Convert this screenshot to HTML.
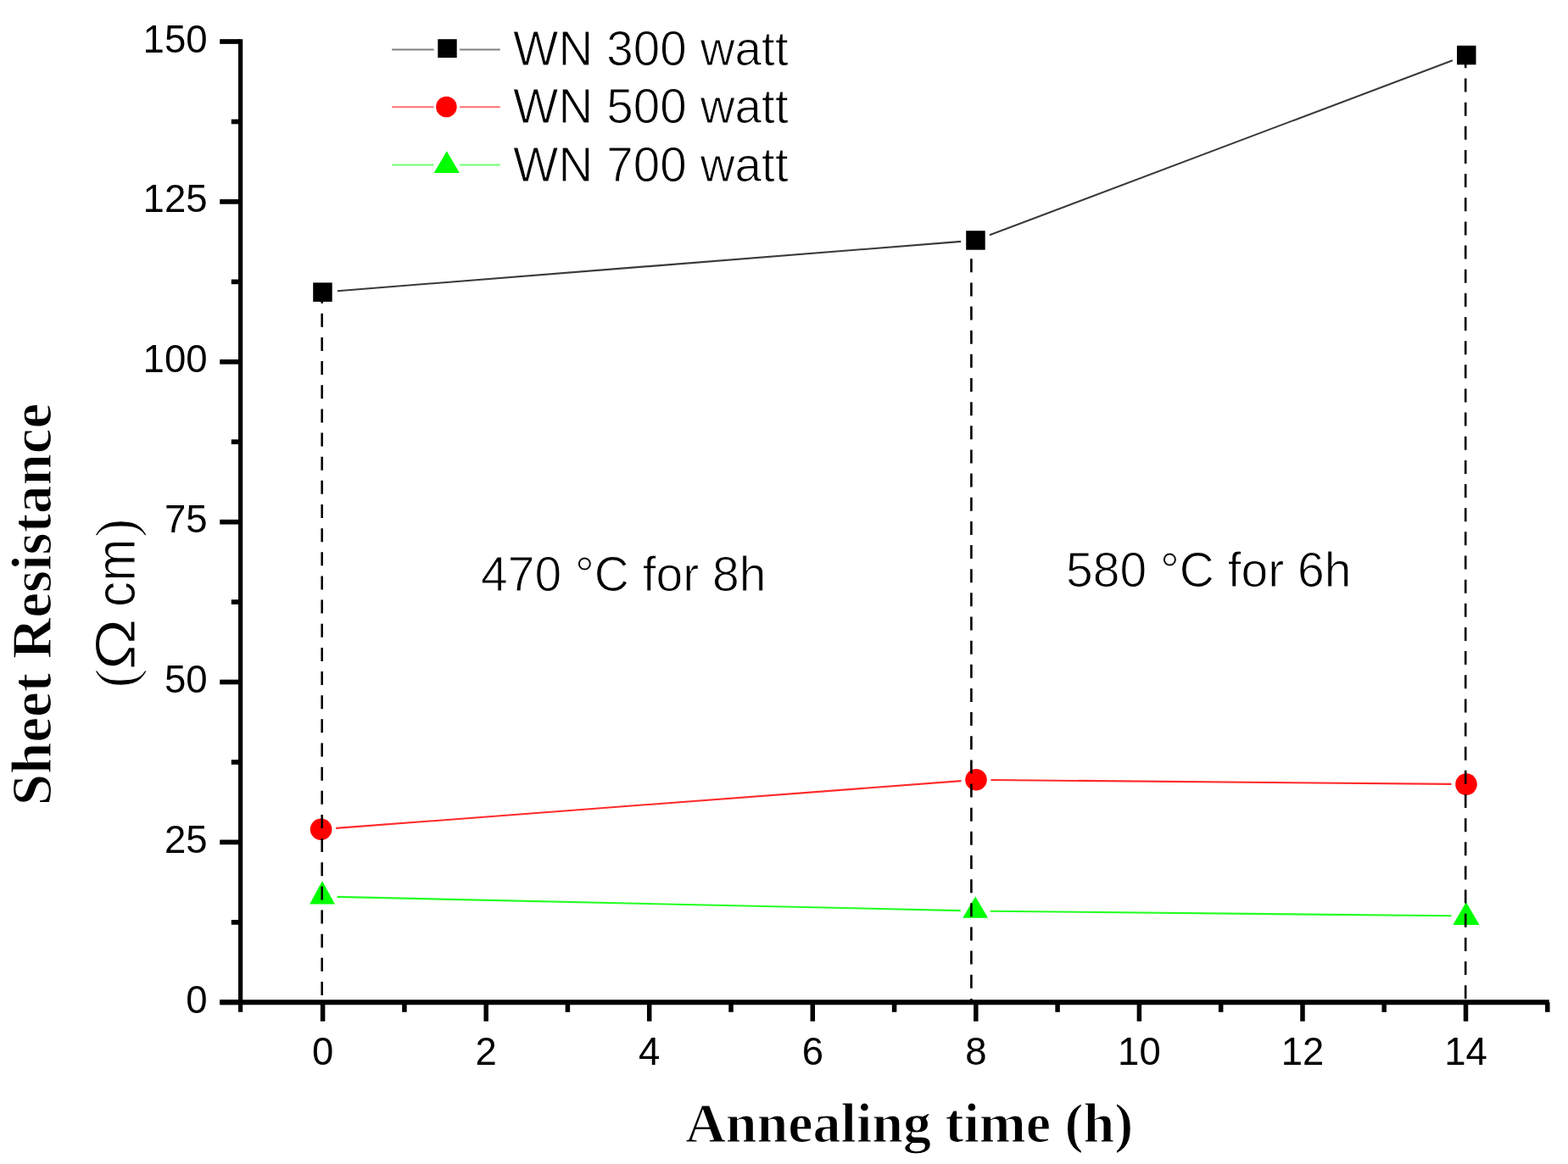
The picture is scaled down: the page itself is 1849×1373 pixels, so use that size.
<!DOCTYPE html>
<html><head><meta charset="utf-8"><title>Sheet Resistance vs Annealing time</title>
<style>html,body{margin:0;padding:0;background:#fff;}svg{display:block;}text{stroke:#fff;paint-order:fill stroke;}.ts{stroke-width:1.0px;}.tb{stroke-width:1.2px;}.tk text{stroke:none;}</style></head>
<body>
<svg width="1849" height="1373" viewBox="0 0 1849 1373">
<rect width="1849" height="1373" fill="#fff"/>
<line x1="397.9" y1="343.2" x2="1133.1" y2="284.9" stroke="#3a3a3a" stroke-width="2.1"/><line x1="1166.9" y1="277.3" x2="1712.9" y2="71.2" stroke="#3a3a3a" stroke-width="2.1"/>
<line x1="396.1" y1="976.9" x2="1133.5" y2="921.1" stroke="#ff2a2a" stroke-width="2.1"/><line x1="1168.5" y1="920.0" x2="1711.5" y2="924.9" stroke="#ff2a2a" stroke-width="2.1"/>
<line x1="397.5" y1="1057.9" x2="1132.7" y2="1074.1" stroke="#22ff22" stroke-width="2.1"/><line x1="1167.7" y1="1074.7" x2="1711.5" y2="1080.3" stroke="#22ff22" stroke-width="2.1"/>
<rect x="369.2" y="333.4" width="22.5" height="22.5" fill="#000"/>
<rect x="1139.2" y="272.2" width="22.5" height="22.5" fill="#000"/>
<rect x="1718.0" y="53.8" width="22.5" height="22.5" fill="#000"/>
<circle cx="378.6" cy="978.2" r="12.8" fill="#f00"/>
<circle cx="1151.0" cy="919.8" r="12.8" fill="#f00"/>
<circle cx="1729.0" cy="925.1" r="12.8" fill="#f00"/>
<polygon points="380.0,1039.1 394.9,1066.5 365.2,1066.5" fill="#0f0"/>
<polygon points="1150.2,1057.5 1165.1,1082.7 1135.2,1082.7" fill="#0f0"/>
<polygon points="1728.9,1064 1744.6,1090.9 1713.3,1090.9" fill="#0f0"/>
<line x1="379.7" y1="341.65" x2="379.7" y2="1180" stroke="#000" stroke-width="2.6" stroke-dasharray="16 12.15"/>
<line x1="1145.4" y1="277.1" x2="1145.4" y2="1180" stroke="#000" stroke-width="2.6" stroke-dasharray="16 12.15"/>
<line x1="1728.2" y1="64.35" x2="1728.2" y2="1180" stroke="#000" stroke-width="2.6" stroke-dasharray="16 12.15"/>
<line x1="283.6" y1="46.2" x2="283.6" y2="1193.8" stroke="#000" stroke-width="5.2"/>
<line x1="259.2" y1="1182.3" x2="1826.7" y2="1182.3" stroke="#000" stroke-width="6.0"/>
<line x1="259.2" y1="1182.3" x2="283.6" y2="1182.3" stroke="#000" stroke-width="5.7"/>
<line x1="259.2" y1="993.4" x2="283.6" y2="993.4" stroke="#000" stroke-width="5.7"/>
<line x1="259.2" y1="804.5" x2="283.6" y2="804.5" stroke="#000" stroke-width="5.7"/>
<line x1="259.2" y1="615.7" x2="283.6" y2="615.7" stroke="#000" stroke-width="5.7"/>
<line x1="259.2" y1="426.8" x2="283.6" y2="426.8" stroke="#000" stroke-width="5.7"/>
<line x1="259.2" y1="237.9" x2="283.6" y2="237.9" stroke="#000" stroke-width="5.7"/>
<line x1="259.2" y1="49.0" x2="283.6" y2="49.0" stroke="#000" stroke-width="5.7"/>
<line x1="272.8" y1="1087.9" x2="283.6" y2="1087.9" stroke="#000" stroke-width="5.7"/>
<line x1="272.8" y1="899.0" x2="283.6" y2="899.0" stroke="#000" stroke-width="5.7"/>
<line x1="272.8" y1="710.1" x2="283.6" y2="710.1" stroke="#000" stroke-width="5.7"/>
<line x1="272.8" y1="521.2" x2="283.6" y2="521.2" stroke="#000" stroke-width="5.7"/>
<line x1="272.8" y1="332.4" x2="283.6" y2="332.4" stroke="#000" stroke-width="5.7"/>
<line x1="272.8" y1="143.5" x2="283.6" y2="143.5" stroke="#000" stroke-width="5.7"/>
<line x1="380.6" y1="1182.3" x2="380.6" y2="1204.7" stroke="#000" stroke-width="5.5"/>
<line x1="573.2" y1="1182.3" x2="573.2" y2="1204.7" stroke="#000" stroke-width="5.5"/>
<line x1="765.7" y1="1182.3" x2="765.7" y2="1204.7" stroke="#000" stroke-width="5.5"/>
<line x1="958.3" y1="1182.3" x2="958.3" y2="1204.7" stroke="#000" stroke-width="5.5"/>
<line x1="1150.8" y1="1182.3" x2="1150.8" y2="1204.7" stroke="#000" stroke-width="5.5"/>
<line x1="1343.4" y1="1182.3" x2="1343.4" y2="1204.7" stroke="#000" stroke-width="5.5"/>
<line x1="1536.0" y1="1182.3" x2="1536.0" y2="1204.7" stroke="#000" stroke-width="5.5"/>
<line x1="1728.5" y1="1182.3" x2="1728.5" y2="1204.7" stroke="#000" stroke-width="5.5"/>
<line x1="476.9" y1="1182.3" x2="476.9" y2="1193.8" stroke="#000" stroke-width="5.5"/>
<line x1="669.4" y1="1182.3" x2="669.4" y2="1193.8" stroke="#000" stroke-width="5.5"/>
<line x1="862.0" y1="1182.3" x2="862.0" y2="1193.8" stroke="#000" stroke-width="5.5"/>
<line x1="1054.6" y1="1182.3" x2="1054.6" y2="1193.8" stroke="#000" stroke-width="5.5"/>
<line x1="1247.1" y1="1182.3" x2="1247.1" y2="1193.8" stroke="#000" stroke-width="5.5"/>
<line x1="1439.7" y1="1182.3" x2="1439.7" y2="1193.8" stroke="#000" stroke-width="5.5"/>
<line x1="1632.2" y1="1182.3" x2="1632.2" y2="1193.8" stroke="#000" stroke-width="5.5"/>
<line x1="1824.8" y1="1182.3" x2="1824.8" y2="1193.8" stroke="#000" stroke-width="5.5"/>
<g class="tk" font-family="Liberation Sans, Arial, sans-serif" font-size="45.5" fill="#000" text-anchor="end">
<text x="244.5" y="1194.8">0</text>
<text x="244.5" y="1005.9">25</text>
<text x="244.5" y="817.0">50</text>
<text x="244.5" y="628.2">75</text>
<text x="244.5" y="439.3">100</text>
<text x="244.5" y="250.4">125</text>
<text x="244.5" y="61.5">150</text>
</g>
<g class="tk" font-family="Liberation Sans, Arial, sans-serif" font-size="45.5" fill="#000" text-anchor="middle">
<text x="380.6" y="1256">0</text>
<text x="573.2" y="1256">2</text>
<text x="765.7" y="1256">4</text>
<text x="958.3" y="1256">6</text>
<text x="1150.8" y="1256">8</text>
<text x="1343.4" y="1256">10</text>
<text x="1536.0" y="1256">12</text>
<text x="1728.5" y="1256">14</text>
</g>
<line x1="462.2" y1="58.4" x2="511.6" y2="58.4" stroke="#808080" stroke-width="2"/>
<line x1="542" y1="58.4" x2="589.8" y2="58.4" stroke="#808080" stroke-width="2"/>
<rect x="516.3" y="46.2" width="22.4" height="21.9" fill="#000"/>
<text class="ts" x="605" y="76.8" font-family="Liberation Sans, Arial, sans-serif" font-size="56.5" letter-spacing="0.12" fill="#000">WN 300 watt</text>
<line x1="462.2" y1="126.3" x2="511.6" y2="126.3" stroke="#ff7070" stroke-width="2"/>
<line x1="542" y1="126.3" x2="589.8" y2="126.3" stroke="#ff7070" stroke-width="2"/>
<circle cx="526.4" cy="126" r="12.3" fill="#f00"/>
<text class="ts" x="605" y="144.9" font-family="Liberation Sans, Arial, sans-serif" font-size="56.5" letter-spacing="0.12" fill="#000">WN 500 watt</text>
<line x1="462.2" y1="194.4" x2="511.6" y2="194.4" stroke="#70ff70" stroke-width="2"/>
<line x1="542" y1="194.4" x2="589.8" y2="194.4" stroke="#70ff70" stroke-width="2"/>
<polygon points="526.8,178.2 541.9,203.9 511.7,203.9" fill="#0f0"/>
<text class="ts" x="605" y="213.9" font-family="Liberation Sans, Arial, sans-serif" font-size="56.5" letter-spacing="0.12" fill="#000">WN 700 watt</text>
<text class="ts" x="567" y="697" font-family="Liberation Sans, Arial, sans-serif" font-size="57" fill="#000">470 °C for 8h</text>
<text class="ts" x="1257" y="692" font-family="Liberation Sans, Arial, sans-serif" font-size="57" fill="#000">580 °C for 6h</text>
<text class="tb" x="1072.2" y="1347.2" text-anchor="middle" font-family="Liberation Serif, Times New Roman, serif" font-weight="bold" font-size="66" fill="#000">Annealing time (h)</text>
<text class="tb" transform="translate(60.3,713) rotate(-90)" text-anchor="middle" font-family="Liberation Serif, Times New Roman, serif" font-weight="bold" font-size="67" fill="#000">Sheet Resistance</text>
<text transform="translate(158.5,811.3) rotate(-90)" font-family="Liberation Serif, Times New Roman, serif" font-size="67" fill="#000">(</text>
<text transform="translate(158.5,790.4) rotate(-90) scale(1.22,1)" class="ts" font-family="Liberation Sans, Arial, sans-serif" font-size="67" fill="#000">Ω</text>
<text transform="translate(158.5,716) rotate(-90) scale(0.9,1)" class="ts" font-family="Liberation Sans, Arial, sans-serif" font-size="67" fill="#000">cm</text>
<text transform="translate(158.5,634) rotate(-90)" font-family="Liberation Serif, Times New Roman, serif" font-size="67" fill="#000">)</text>
</svg>
</body></html>
